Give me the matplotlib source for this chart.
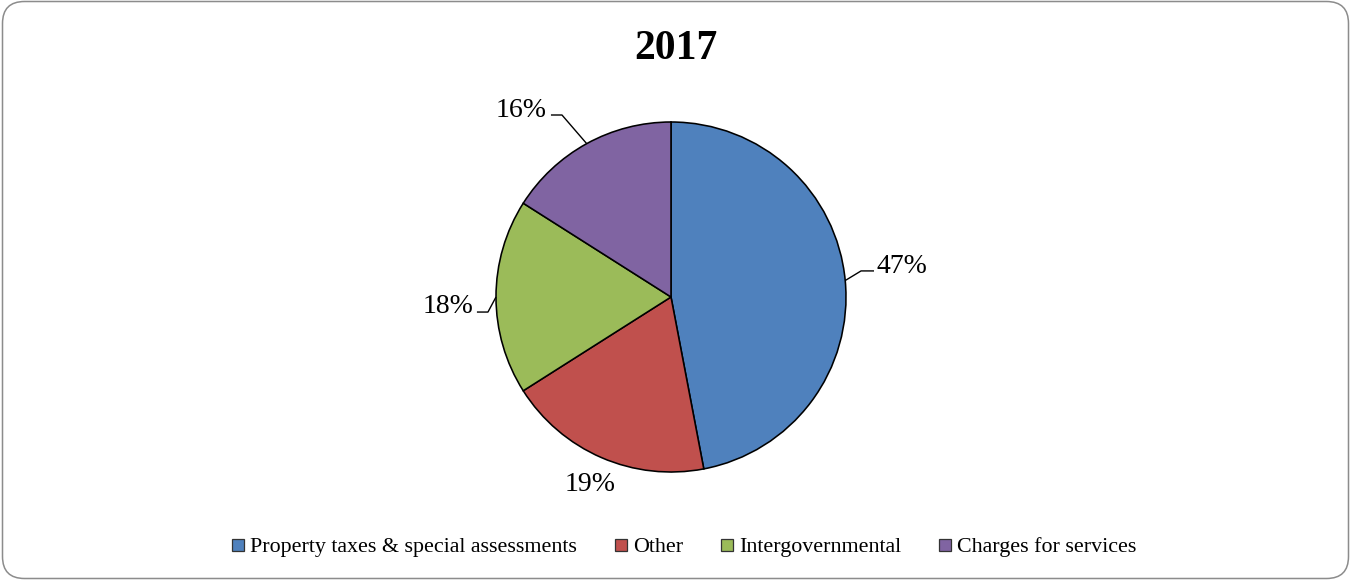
import numpy as np
import matplotlib.pyplot as plt
from matplotlib.patches import FancyBboxPatch
from matplotlib.lines import Line2D

plt.rcParams['font.family'] = ['Liberation Serif', 'DejaVu Serif']

# revenue sources, 2017
categories = ['Property taxes & special assessments', 'Other',
              'Intergovernmental', 'Charges for services']
shares = [47, 19, 18, 16]
colors = ['#4F81BD', '#C0504D', '#9BBB59', '#8064A2']
title = '2017'

# label placement (data units, pie radius = 1): text x, baseline y, alignment,
# and the leader line knee/end (None -> no leader)
label_pos = [(1.177, 0.137, 'left'), (-0.463, -1.11, 'center'),
             (-1.131, -0.091, 'right'), (-0.709, 1.029, 'right')]
leaders = [((1.086, 0.149), (1.16, 0.149)), None,
           ((-1.046, -0.086), (-1.109, -0.086)),
           ((-0.623, 1.04), (-0.686, 1.04))]

W, H = 1351, 580
fig = plt.figure(figsize=(W / 100, H / 100), dpi=100)

# rounded outer frame
frame = FancyBboxPatch((0.025, 0.015), W / 100 - 0.05, H / 100 - 0.03,
                       boxstyle='round,pad=0,rounding_size=0.22',
                       transform=fig.dpi_scale_trans, facecolor='none',
                       edgecolor='#8c8c8c', linewidth=1.1, zorder=5)
fig.patches.append(frame)

ax = fig.add_axes([0, 0, 1, 1])
ax.set_facecolor('none')
cx, cy, r = 671, 297, 175
wedges, _ = ax.pie(shares, colors=colors, startangle=90, counterclock=False,
                   radius=1, wedgeprops=dict(edgecolor='black', linewidth=1.15))
ax.set_xlim((0 - cx) / r, (W - cx) / r)
ax.set_ylim((cy - H) / r, cy / r)
ax.set_aspect('auto')
ax.axis('off')

for w, v, (tx, ty, ha), ld in zip(wedges, shares, label_pos, leaders):
    ang = np.deg2rad((w.theta1 + w.theta2) / 2)
    if ld is not None:
        ex, ey = np.cos(ang), np.sin(ang)
        ax.plot([ex, ld[0][0], ld[1][0]], [ey, ld[0][1], ld[1][1]],
                color='black', linewidth=1.0, solid_capstyle='butt')
    ax.text(tx, ty, f'{v}%', ha=ha, va='baseline', fontsize=20)

fig.text(0.5, 1 - 59 / H, title, ha='center', va='baseline',
         fontsize=30, fontweight='bold')

handles = [Line2D([], [], marker='s', linestyle='none', markersize=8.5,
                  markerfacecolor=c, markeredgecolor='#333333',
                  markeredgewidth=0.9) for c in colors]
fig.legend(handles, categories, loc='center', bbox_to_anchor=(684 / W, 1 - 547 / H),
           ncol=4, frameon=False, fontsize=15.8, handlelength=0.6,
           handletextpad=0.25, columnspacing=1.7, borderpad=0)

fig.savefig('out.png', dpi=100)
